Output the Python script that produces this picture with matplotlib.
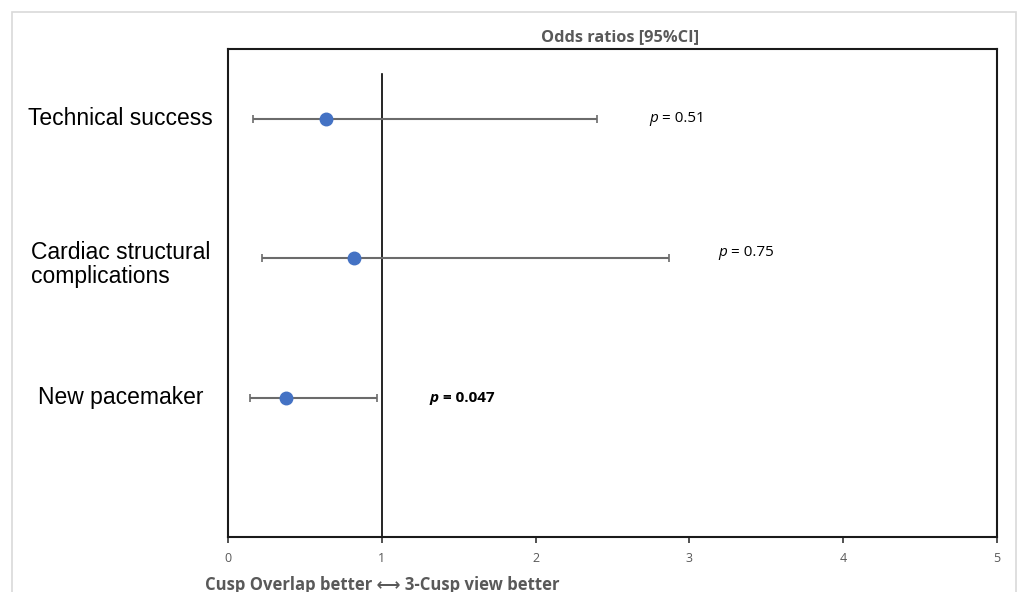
import matplotlib.pyplot as plt
from matplotlib.patches import Rectangle

outcomes = ["Technical success", "Cardiac structural\ncomplications", "New pacemaker"]
ypos = [3, 2, 1]
odds = [0.64, 0.82, 0.38]
ci_low = [0.16, 0.22, 0.14]
ci_high = [2.40, 2.87, 0.97]
p_values = ["0.51", "0.75", "0.047"]
p_x = [2.74, 3.19, 1.31]
p_y = [3.0, 2.04, 1.0]
p_bold = [False, False, True]
xticks = [0, 1, 2, 3, 4, 5]

plt.rcParams['font.family'] = ['Open Sans', 'DejaVu Sans']

fig = plt.figure(figsize=(10.19, 5.92), dpi=100)
ax = fig.add_axes([228 / 1019, 1 - 537 / 592, (997 - 228) / 1019, (537 - 49) / 592])

# light outer frame like the spreadsheet chart area
fig.patches.append(Rectangle((12 / 1019, -0.05), (1016 - 12) / 1019, 1.05 - 12 / 592,
                             transform=fig.transFigure, fill=False,
                             edgecolor='#d9d9d9', linewidth=1.2))

err = [[o - l for o, l in zip(odds, ci_low)], [h - o for o, h in zip(odds, ci_high)]]
ax.errorbar(odds, ypos, xerr=err, fmt='o', color='#4472c4', markersize=9,
            ecolor='#6b6b6b', elinewidth=1.5, capsize=3, capthick=1.2, zorder=3)

ax.plot([1, 1], [0, 3.32], color='black', linewidth=1.2, zorder=2)

for px, py, val, b in zip(p_x, p_y, p_values, p_bold):
    w = 'bold' if b else 'normal'
    t = ax.text(px, py, "p", fontsize=11, va='center', ha='left',
                fontstyle='italic', fontweight=w)
    ax.annotate(" = " + val, xy=(1, 0.5), xycoords=t, va='center', ha='left',
                fontsize=11, fontweight=w)

for lab, y in zip(outcomes, ypos):
    # two-line label sits a bit lower in the original
    yy = y - 0.045 if '\n' in lab else y
    ax.text(-0.7, yy, lab, fontsize=16.5, family='Liberation Sans', ha='center',
            va='center', multialignment='left', linespacing=1.05)

ax.set_xlim(0, 5)
ax.set_ylim(0, 3.5)
ax.set_xticks(xticks)
ax.set_xticklabels([str(t) for t in xticks], color='#595959', fontsize=9)
ax.set_yticks([])
ax.tick_params(axis='x', direction='out', length=4, width=1.2, color='#333333', pad=7)
for s in ax.spines.values():
    s.set_color('#1a1a1a')
    s.set_linewidth(1.5)

ax.set_title("Odds ratios [95%CI]", fontsize=11.8, fontweight='bold', color='#595959',
             pad=6, x=0.51)
ax.set_xlabel("Cusp Overlap better \u27f7 3-Cusp view better", fontsize=12,
              fontweight='bold', color='#595959')
ax.xaxis.set_label_coords(-0.03, -0.08)
ax.xaxis.label.set_ha('left')

fig.savefig('out.png', dpi=100, facecolor='white')
